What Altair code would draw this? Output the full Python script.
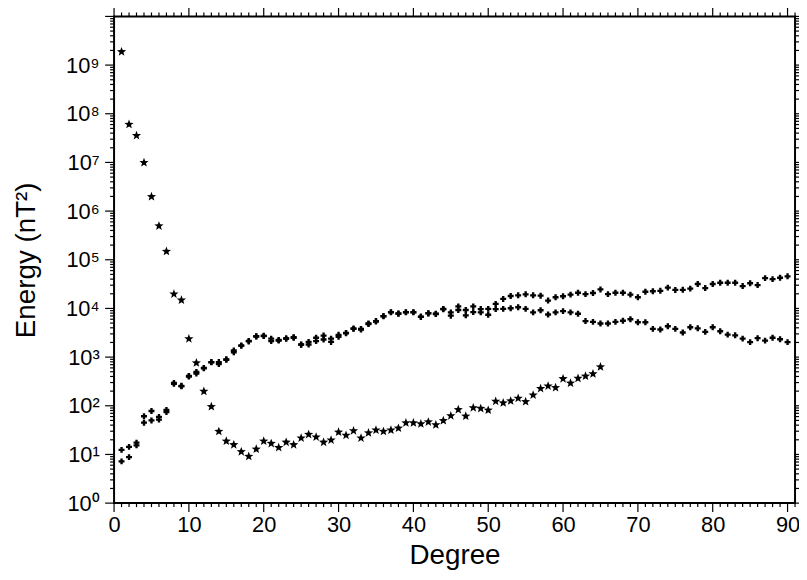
import math
import altair as alt
import pandas as pd

# ---- data ----
degrees_star = list(range(1, 66))
energy_star = [1.9e9, 6.1e7, 3.6e7, 1.0e7, 2.0e6, 5.0e5, 1.5e5, 2.0e4, 1.5e4, 2400,
               770, 200, 97, 30, 19, 16, 11.5, 9.2, 13, 19,
               17, 14, 18, 16, 22, 26, 23, 18, 20, 29,
               25, 31, 22, 28, 32, 30, 32, 35, 45, 45,
               43, 47, 41, 50, 63, 84, 62, 92, 89, 82,
               125, 116, 127, 144, 123, 168, 228, 257, 238, 363,
               295, 370, 410, 458, 635]

degrees_cross = list(range(1, 91))
energy_upper = [12.4, 14.3, 17.5, 61, 78, 59, 82, 295, 257, 410,
                495, 600, 790, 790, 900, 1370, 1740, 2150, 2680, 2740,
                2400, 2250, 2450, 2560, 1820, 2050, 2500, 2770, 2400, 2870,
                3150, 3880, 3780, 4900, 5500, 6950, 8400, 7900, 8400, 8400,
                6800, 8000, 7800, 9800, 8300, 11000, 9300, 11000, 9700, 9800,
                12400, 15700, 18000, 18600, 19500, 18600, 18300, 14500, 17000, 17800,
                19200, 21000, 19700, 20700, 24600, 19700, 21000, 21000, 19200, 17000,
                22000, 22500, 23000, 26800, 24000, 24100, 25500, 31700, 26200, 31700,
                33700, 33700, 33700, 28800, 32900, 30200, 42000, 40000, 42600, 45700]
energy_lower = [7.2, 8.8, 15.4, 45, 50, 52, 74, 282, 251, 400,
                460, 590, 780, 720, 880, 1260, 1700, 2100, 2650, 2700,
                2130, 2190, 2370, 2500, 1800, 1820, 2130, 2300, 2050, 2620,
                3100, 3800, 3700, 4800, 5400, 6900, 8300, 7800, 8300, 8300,
                6700, 7900, 7700, 9600, 7100, 9300, 7200, 8400, 8300, 7400,
                9700, 9800, 10100, 10600, 9800, 8300, 9200, 7500, 8300, 8800,
                8300, 7800, 5500, 5300, 4900, 4900, 5300, 5600, 6000, 5200,
                5200, 3800, 3700, 4300, 3800, 3200, 4100, 3900, 3300, 4100,
                3400, 2900, 2800, 2400, 2030, 2450, 2180, 2500, 2330, 2030]

x_domain = [0, 91]
y_domain = [1, 1e10]
x_major = list(range(0, 91, 10))
x_minor = [v for v in range(0, 92) if v % 10 != 0]
y_major = [float(10 ** e) for e in range(0, 11)]
y_minor = [float(k * 10 ** e) for e in range(0, 10) for k in range(2, 10)]
y_labels = [float(10 ** e) for e in range(0, 10)]

W, H = 687, 491
FONT = "Liberation Sans"

# five-pointed star symbol path in the unit box
pts = []
for i in range(10):
    r = 1.0 if i % 2 == 0 else 0.42
    a = math.radians(-90 + 36 * i)
    pts.append(f"{r * math.cos(a):.3f},{r * math.sin(a) + 0.05:.3f}")
STAR_PATH = "M" + " L".join(pts) + " Z"

star_df = pd.DataFrame({"degree": degrees_star, "energy": energy_star})
cross_df = pd.DataFrame({
    "degree": degrees_cross + degrees_cross,
    "energy": energy_upper + energy_lower,
})

xs = alt.Scale(domain=x_domain, nice=False, zero=False)
ys = alt.Scale(type="log", domain=y_domain, nice=False)

sup = "['\u2070','\u00b9','\u00b2','\u00b3','\u2074','\u2075','\u2076','\u2077','\u2078','\u2079']"
y_label_expr = f"'10' + {sup}[round(log(datum.value)/LN10)]"

axis_common = dict(grid=False, ticks=False, domain=False, labelColor="black", labelFont=FONT,
                   labelFontSize=22, labelOverlap=False, labelFlush=False, titleFont=FONT,
                   titleFontSize=28, titleFontWeight="normal", titleColor="black")

x_axis = alt.Axis(orient="bottom", values=x_major, labelPadding=12, title="Degree",
                  titleX=W / 2, titleY=61, titleBaseline="alphabetic", titleAlign="center",
                  **axis_common)
y_axis = alt.Axis(orient="left", values=y_labels, labelExpr=y_label_expr, labelPadding=15,
                  title="Energy (nT\u00b2)", titleX=-88, titleY=H / 2, titleBaseline="middle",
                  titleAlign="center", titleAngle=270, **axis_common)


def X(field="degree"):
    return alt.X(f"{field}:Q", scale=xs, axis=x_axis, title="Degree")


def Y(field="energy"):
    return alt.Y(f"{field}:Q", scale=ys, axis=y_axis, title="Energy (nT\u00b2)")


stars = alt.Chart(star_df).mark_point(shape=STAR_PATH, filled=True, size=95, color="black",
                                      opacity=1).encode(x=X(), y=Y())

crosses = alt.Chart(cross_df).mark_point(shape="cross", filled=True, size=36, color="black",
                                         opacity=1).encode(x=X(), y=Y())


def xticks(values, length):
    d = pd.DataFrame({"degree": values})
    bottom = alt.Chart(d).mark_rule(color="black", strokeWidth=1.2).encode(
        x=X(), y=alt.value(H), y2=alt.value(H + length))
    top = alt.Chart(d).mark_rule(color="black", strokeWidth=1.2).encode(
        x=X(), y=alt.value(0), y2=alt.value(-length))
    return [bottom, top]


def yticks(values, length):
    d = pd.DataFrame({"energy": values})
    left = alt.Chart(d).mark_rule(color="black", strokeWidth=1.2).encode(
        y=Y(), x=alt.value(0), x2=alt.value(-length))
    right = alt.Chart(d).mark_rule(color="black", strokeWidth=1.2).encode(
        y=Y(), x=alt.value(W), x2=alt.value(W + length))
    return [left, right]


tick_layers = xticks(x_major, 9) + xticks(x_minor, 4) + yticks(y_major, 9) + yticks(y_minor, 4)

chart = alt.layer(stars, crosses, *tick_layers).properties(
    width=W, height=H,
    autosize=alt.AutoSizeParams(type="none"),
    padding={"left": 107, "top": 6, "right": 4, "bottom": 67},
).configure_view(stroke="black", strokeWidth=2)

chart.save("out.html", embed_options={"renderer": "svg", "actions": False})
